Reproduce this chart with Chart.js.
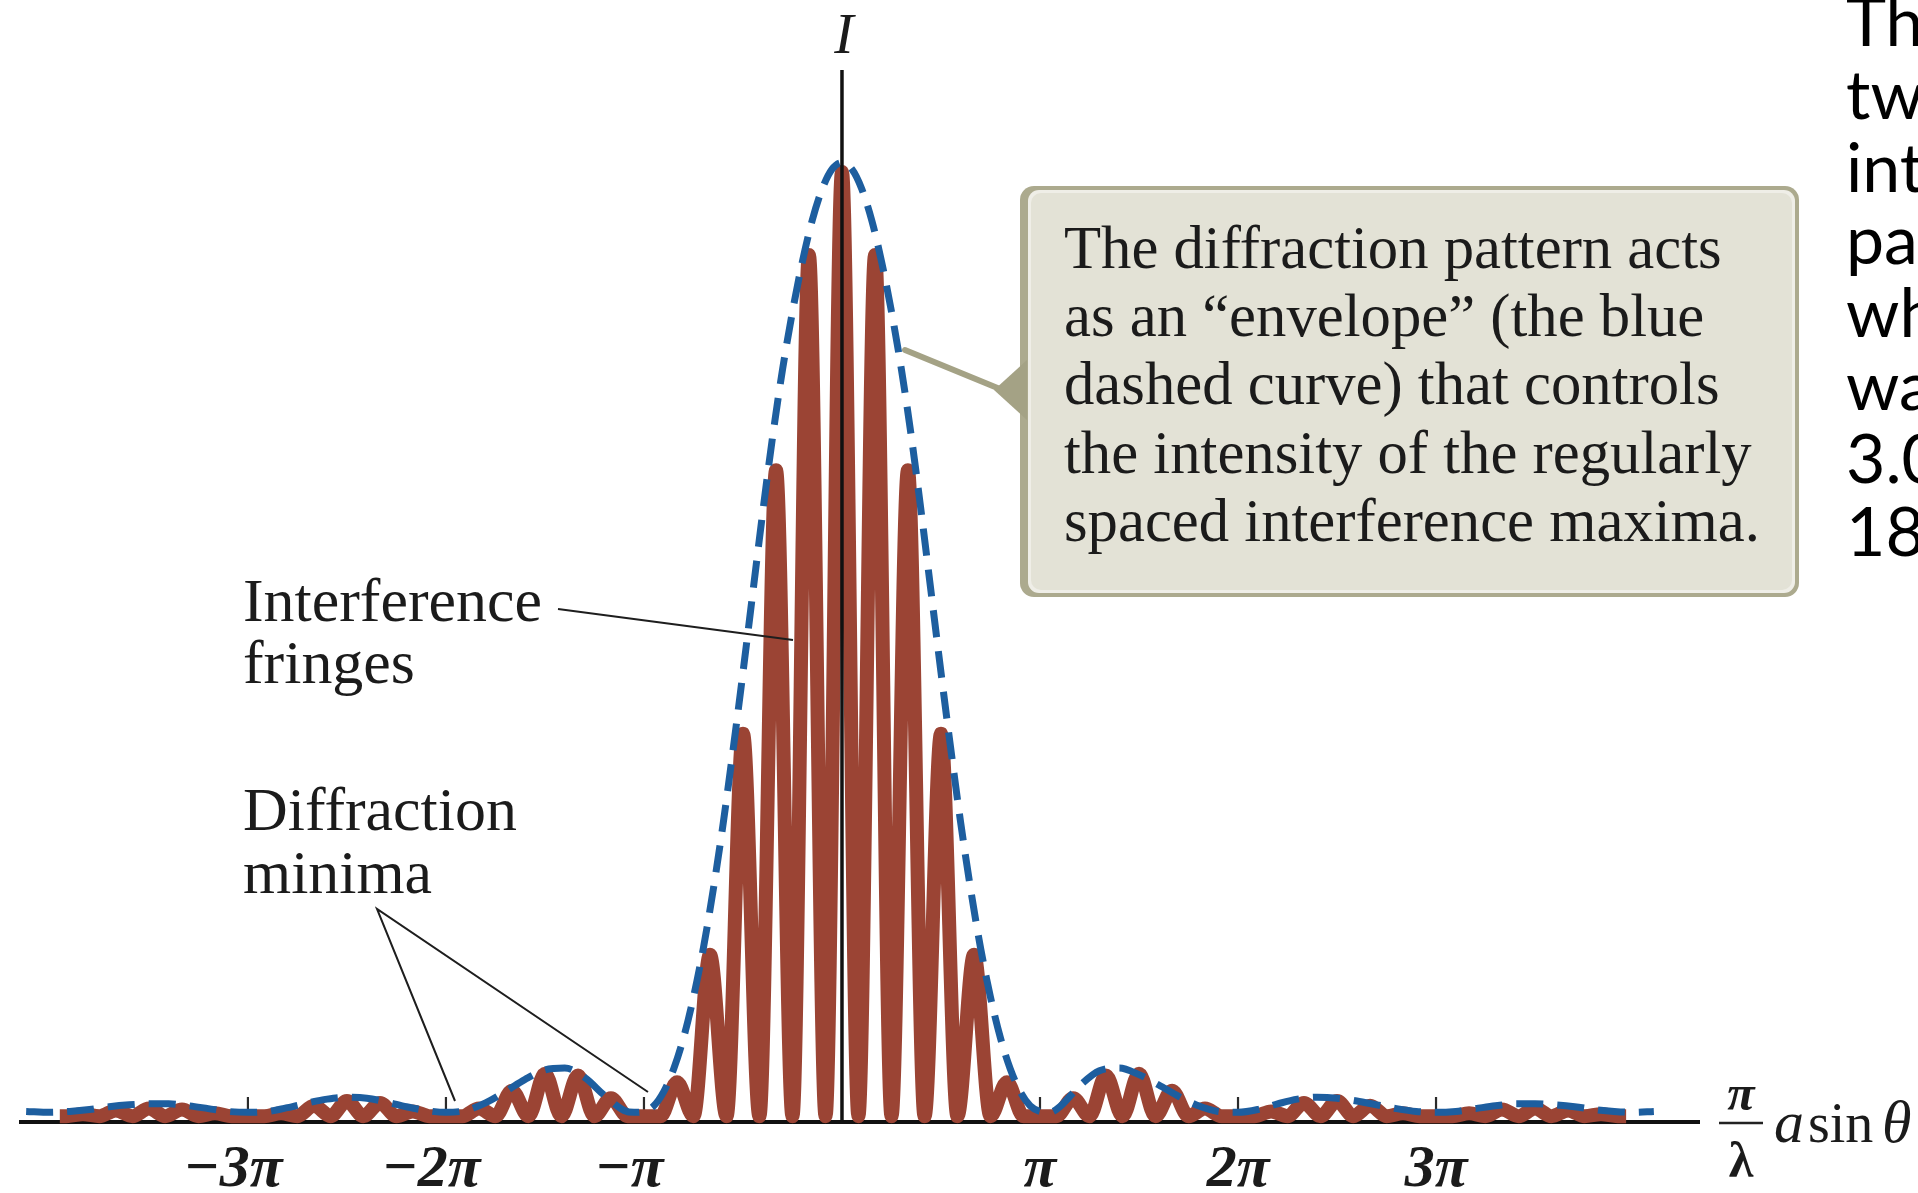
<!DOCTYPE html>
<html>
<head>
<meta charset="utf-8">
<script src="https://cdn.jsdelivr.net/npm/chart.js@4.4.1/dist/chart.umd.min.js"></script>
<style>
html,body{margin:0;padding:0;background:#ffffff;overflow:hidden}
canvas{display:block}
</style>
</head>
<body>
<canvas id="c" width="1918" height="1193"></canvas>
<script>
// ---------- DATA (x in units of π for (π/λ)·a·sinθ ; y = relative intensity I/I0) ----------
// Interference fringes (red curve): fringe maxima and the zeros between them
const fringeX = [-3.95,-3.917,-3.833,-3.75,-3.667,-3.583,-3.5,-3.417,-3.333,-3.25,-3.167,-3.083,-3,-2.917,-2.833,-2.75,-2.667,-2.583,-2.5,-2.417,-2.333,-2.25,-2.167,-2.083,-2,-1.917,-1.833,-1.75,-1.667,-1.583,-1.5,-1.417,-1.333,-1.25,-1.167,-1.083,-1,-0.917,-0.833,-0.75,-0.667,-0.583,-0.5,-0.417,-0.333,-0.25,-0.167,-0.083,
  0,
  0.083,0.167,0.25,0.333,0.417,0.5,0.583,0.667,0.75,0.833,0.917,1,1.083,1.167,1.25,1.333,1.417,1.5,1.583,1.667,1.75,1.833,1.917,2,2.083,2.167,2.25,2.333,2.417,2.5,2.583,2.667,2.75,2.833,2.917,3,3.083,3.167,3.25,3.333,3.417,3.5,3.583,3.667,3.75,3.833,3.917,3.96];
const fringeI = [0,0,0.002,0,0.006,0,0.008,0,0.007,0,0.003,0,0,0,0.003,0,0.011,0,0.016,0,0.014,0,0.005,0,0,0,0.008,0,0.027,0,0.045,0,0.043,0,0.019,0,0,0,0.036,0,0.171,0,0.405,0,0.684,0,0.912,0,
  1.0,
  0,0.912,0,0.684,0,0.405,0,0.171,0,0.036,0,0,0,0.019,0,0.043,0,0.045,0,0.027,0,0.008,0,0,0,0.005,0,0.014,0,0.016,0,0.011,0,0.003,0,0,0,0.003,0,0.007,0,0.008,0,0.006,0,0.002,0,0];

// Diffraction envelope (blue dashed curve)
const envelopeX = [-4.12,-4.0,-3.9,-3.8,-3.7,-3.6,-3.5,-3.4,-3.3,-3.2,-3.1,-3.0,-2.9,-2.8,-2.7,-2.6,-2.5,-2.4,-2.3,-2.2,-2.1,-2.0,-1.9,-1.8,-1.7,-1.6,-1.5,-1.4,-1.3,-1.2,-1.1,-1.05,-1.0,-0.95,-0.9,-0.85,-0.8,-0.75,-0.7,-0.65,-0.6,-0.55,-0.5,-0.45,-0.4,-0.35,-0.3,-0.25,-0.2,-0.15,-0.1,-0.05,
  0,
  0.05,0.1,0.15,0.2,0.25,0.3,0.35,0.4,0.45,0.5,0.55,0.6,0.65,0.7,0.75,0.8,0.85,0.9,0.95,1.0,1.05,1.1,1.2,1.3,1.4,1.5,1.6,1.7,1.8,1.9,2.0,2.1,2.2,2.3,2.4,2.5,2.6,2.7,2.8,2.9,3.0,3.1,3.2,3.3,3.4,3.5,3.6,3.7,3.8,3.9,4.0,4.1];
const envelopeI = [0.005,0.004,0.005,0.007,0.010,0.012,0.013,0.013,0.011,0.008,0.005,0.004,0.005,0.009,0.014,0.018,0.020,0.019,0.015,0.010,0.006,0.004,0.006,0.014,0.026,0.039,0.049,0.051,0.041,0.022,0.006,0.004,0.005,0.011,0.026,0.050,0.083,0.126,0.178,0.240,0.310,0.388,0.470,0.555,0.640,0.720,0.791,0.852,0.905,0.949,0.982,1.003,
  1.010,
  1.003,0.982,0.949,0.905,0.852,0.791,0.720,0.640,0.555,0.470,0.388,0.310,0.240,0.178,0.126,0.083,0.050,0.026,0.011,0.005,0.004,0.010,0.032,0.048,0.051,0.044,0.033,0.021,0.011,0.005,0.004,0.007,0.013,0.018,0.020,0.019,0.016,0.012,0.008,0.005,0.004,0.005,0.008,0.011,0.013,0.013,0.012,0.010,0.007,0.005,0.004,0.005];

// Axis ticks and labels
const tickValues = [-3, -2, -1, 1, 2, 3];
const tickLabels = ['−3π', '−2π', '−π', 'π', '2π', '3π'];

// Text content
const calloutLines = ['The diffraction pattern acts', 'as an “envelope” (the blue', 'dashed curve) that controls', 'the intensity of the regularly', 'spaced interference maxima.'];
const fringeLabel = ['Interference', 'fringes'];
const minimaLabel = ['Diffraction', 'minima'];
const sideText = ['Th', 'tw', 'int', 'pa', 'wh', 'wa', '3.0', '18'];

// ---------- STYLE ----------
const RED = '#9b4434';
const BLUE = '#1d5e9f';
const INK = '#1b1b1b';
const SERIF = "'Liberation Serif', 'DejaVu Serif', serif";

function fitSize(ctx, text, target, style) {
  ctx.font = style + ' 100px ' + SERIF;
  return 100 * target / ctx.measureText(text).width;
}
function roundRect(ctx, x, y, w, h, r) {
  ctx.beginPath();
  ctx.moveTo(x + r, y);
  ctx.arcTo(x + w, y, x + w, y + h, r);
  ctx.arcTo(x + w, y + h, x, y + h, r);
  ctx.arcTo(x, y + h, x, y, r);
  ctx.arcTo(x, y, x + w, y, r);
  ctx.closePath();
}

const deco = {
  id: 'deco',
  beforeDatasetsDraw(chart) {
    const { ctx, chartArea, scales: { x } } = chart;
    ctx.save();
    ctx.strokeStyle = '#2a2a2a';
    ctx.lineWidth = 2.2;
    tickValues.forEach(v => {
      const px = x.getPixelForValue(v);
      ctx.beginPath();
      ctx.moveTo(px, chartArea.bottom - 25);
      ctx.lineTo(px, chartArea.bottom);
      ctx.stroke();
    });
    ctx.restore();
  },
  afterDatasetsDraw(chart) {
    const { ctx, chartArea, scales: { x } } = chart;
    const px = x.getPixelForValue(0);
    ctx.save();
    ctx.strokeStyle = '#111';
    ctx.lineWidth = 3.5;
    ctx.beginPath();
    ctx.moveTo(px, chartArea.top);
    ctx.lineTo(px, chartArea.bottom);
    ctx.stroke();
    ctx.restore();
  },
  afterDraw(chart) {
    const { ctx, scales: { x } } = chart;
    ctx.save();
    ctx.fillStyle = INK;
    ctx.textBaseline = 'alphabetic';

    // "I" axis label
    ctx.font = 'italic 58px ' + SERIF;
    ctx.textAlign = 'center';
    ctx.fillText('I', x.getPixelForValue(0) + 2, 53);

    // Callout box
    roundRect(ctx, 1020, 186, 779, 411, 14);
    ctx.fillStyle = '#acaa8e';
    ctx.fill();
    roundRect(ctx, 1028, 190, 767, 403, 11);
    ctx.fillStyle = '#efeee7';
    ctx.fill();
    roundRect(ctx, 1031, 193, 761, 397, 10);
    ctx.fillStyle = '#e3e2d6';
    ctx.fill();

    // Callout pointer
    ctx.fillStyle = '#a4a285';
    ctx.beginPath();
    ctx.moveTo(994, 390);
    ctx.lineTo(1027, 360);
    ctx.lineTo(1027, 420);
    ctx.closePath();
    ctx.fill();
    ctx.strokeStyle = '#a4a285';
    ctx.lineWidth = 6;
    ctx.lineCap = 'round';
    ctx.beginPath();
    ctx.moveTo(905, 350);
    ctx.lineTo(1000, 389);
    ctx.stroke();

    // Callout text
    ctx.fillStyle = INK;
    ctx.textAlign = 'left';
    const cs = fitSize(ctx, calloutLines[0], 658, 'normal');
    ctx.font = cs.toFixed(1) + 'px ' + SERIF;
    calloutLines.forEach((t, i) => ctx.fillText(t, 1064, 268 + i * 68.2));

    // Left labels
    const ls = fitSize(ctx, fringeLabel[0], 299, 'normal');
    ctx.font = ls.toFixed(1) + 'px ' + SERIF;
    ctx.fillText(fringeLabel[0], 243, 621);
    ctx.fillText(fringeLabel[1], 243, 683);
    ctx.fillText(minimaLabel[0], 243, 830);
    ctx.fillText(minimaLabel[1], 243, 893);

    // Leader lines
    ctx.strokeStyle = '#1e1e1e';
    ctx.lineWidth = 2;
    ctx.lineCap = 'butt';
    ctx.beginPath();
    ctx.moveTo(558, 609); ctx.lineTo(793, 640);
    ctx.moveTo(455, 1101); ctx.lineTo(377, 909); ctx.lineTo(648, 1092);
    ctx.stroke();

    // Horizontal axis title: (π/λ) a sin θ
    ctx.textAlign = 'center';
    ctx.font = 'italic bold 50px ' + SERIF;
    ctx.fillText('π', 1741, 1110);
    ctx.font = 'bold 50px ' + SERIF;
    ctx.fillText('λ', 1741, 1177);
    ctx.strokeStyle = '#222';
    ctx.lineWidth = 2.5;
    ctx.beginPath();
    ctx.moveTo(1719, 1123); ctx.lineTo(1763, 1123);
    ctx.stroke();
    ctx.textAlign = 'left';
    ctx.font = 'italic 60px ' + SERIF;
    ctx.fillText('a', 1774, 1142);
    ctx.font = '56px ' + SERIF;
    ctx.fillText('sin', 1808, 1142);
    ctx.font = 'italic 60px ' + SERIF;
    ctx.fillText('θ', 1882, 1142);

    // Slide text cut off at the right edge
    ctx.font = '68px Lato, "Open Sans", sans-serif';
    ctx.fillStyle = '#000';
    sideText.forEach((t, i) => ctx.fillText(t, 1846, 46 + i * 72.8));
    ctx.restore();
  }
};

const chart = new Chart(document.getElementById('c'), {
  type: 'line',
  data: {
    datasets: [
      {
        label: 'Diffraction envelope',
        data: envelopeX.map((v, i) => ({ x: v, y: envelopeI[i] })),
        borderColor: BLUE,
        borderWidth: 7,
        borderDash: [27, 14],
        borderCapStyle: 'butt',
        pointRadius: 0,
        cubicInterpolationMode: 'monotone',
        fill: false,
        clip: false,
        order: 0
      },
      {
        label: 'Interference fringes',
        data: fringeX.map((v, i) => ({ x: v, y: fringeI[i] })),
        borderColor: RED,
        borderWidth: 14,
        borderCapStyle: 'butt',
        borderJoinStyle: 'round',
        pointRadius: 0,
        cubicInterpolationMode: 'monotone',
        fill: false,
        clip: false,
        order: 1
      }
    ]
  },
  options: {
    responsive: false,
    animation: false,
    devicePixelRatio: 1,
    events: [],
    layout: { autoPadding: false, padding: { left: 21, right: 219, top: 70, bottom: 0 } },
    plugins: { legend: { display: false }, tooltip: { enabled: false }, title: { display: false } },
    scales: {
      x: {
        type: 'linear',
        min: -4.146,
        max: 4.328,
        afterFit(scale) { scale.height = 71; },
        afterBuildTicks(scale) { scale.ticks = tickValues.map(v => ({ value: v })); },
        grid: { display: false, drawTicks: false },
        border: { display: true, color: '#111', width: 4 },
        ticks: {
          autoSkip: false,
          maxRotation: 0,
          minRotation: 0,
          padding: 12,
          color: INK,
          font: { family: SERIF, size: 60, style: 'italic', weight: 'bold' },
          callback(value) {
            const i = tickValues.indexOf(value);
            const lab = i >= 0 ? tickLabels[i] : '';
            return value < 0 ? lab + '  ' : lab;
          }
        }
      },
      y: { display: false, min: -0.0062, max: 1.108 }
    }
  },
  plugins: [deco]
});
</script>
</body>
</html>
